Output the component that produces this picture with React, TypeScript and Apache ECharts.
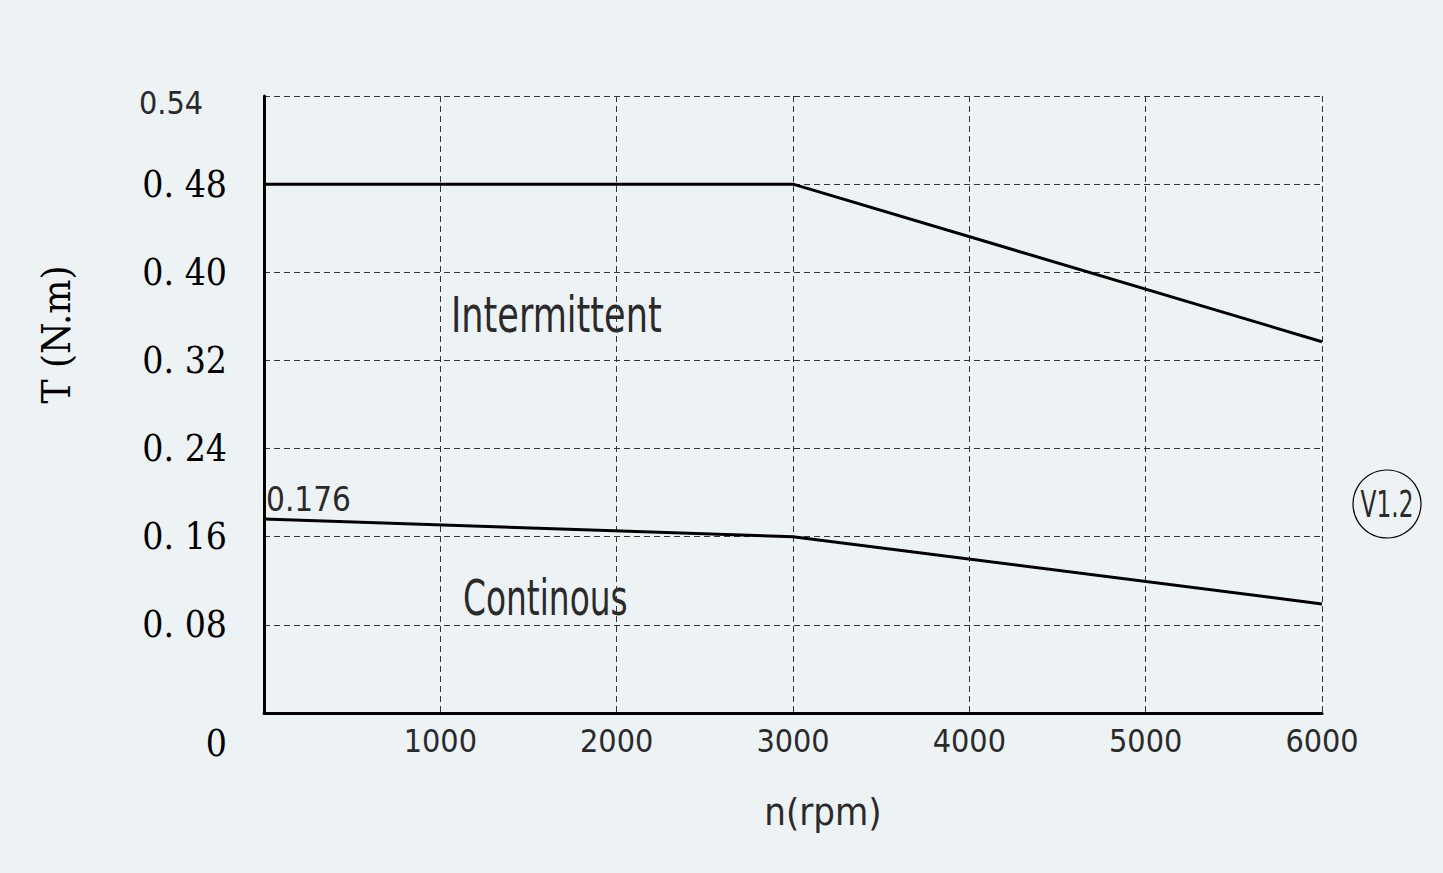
import React, { useEffect, useRef } from "react";
import * as echarts from "echarts";

// ---- data ----
const speedPoints = [0, 3000, 6000];
const intermittentTorque = [0.48, 0.48, 0.337];
const continuousTorque = [0.176, 0.16, 0.099];
const yTickLabels = ["0", "0. 08", "0. 16", "0. 24", "0. 32", "0. 40", "0. 48", "0.54"];
const xTickLabels = ["", "1000", "2000", "3000", "4000", "5000", "6000"];
const regionLabels = ["Intermittent", "Continous"];
const versionLabel = "V1.2";
const xAxisName = "n(rpm)";
const yAxisName = "T (N.m)";

const SANS = "'DejaVu Sans Condensed', 'Liberation Sans Narrow', 'DejaVu Sans', sans-serif";
const SERIF = "'DejaVu Serif Condensed', 'Liberation Serif', 'DejaVu Serif', serif";
const INK = "#2a2a2a";

export default function App() {
  const ref = useRef<HTMLDivElement>(null);

  useEffect(() => {
    if (!ref.current) return;
    const chart = echarts.init(ref.current, undefined, { renderer: "svg" });

    const mk = (arr: number[]) => speedPoints.map((x, i) => [x, arr[i]]);
    const contData: any[] = mk(continuousTorque);
    contData[0] = {
      value: contData[0],
      label: {
        show: true,
        formatter: String(continuousTorque[0]),
        position: "top",
        align: "left",
        offset: [2, 2],
        fontFamily: SANS,
        fontSize: 33,
        color: INK,
      },
    };

    chart.setOption({
      animation: false,
      backgroundColor: "#edf2f5",
      grid: { left: 264, right: 121, top: 96, bottom: 160, containLabel: false },
      xAxis: {
        type: "value",
        min: 0,
        max: 6000,
        interval: 1000,
        name: xAxisName,
        nameLocation: "middle",
        nameGap: 80,
        nameTextStyle: { fontFamily: SANS, fontSize: 38, color: INK, padding: [0, 0, 0, 60] },
        axisLine: { show: true, onZero: false, lineStyle: { color: "#000", width: 3 } },
        axisTick: { show: false },
        splitLine: { show: true, lineStyle: { color: "#333", width: 1, type: [6, 4] } },
        axisLabel: {
          margin: 12,
          fontFamily: SANS,
          fontSize: 32,
          color: INK,
          formatter: (v: number) => xTickLabels[Math.round(v / 1000)] ?? "",
        },
      },
      yAxis: {
        type: "value",
        min: 0,
        max: 0.56,
        interval: 0.08,
        name: yAxisName,
        nameLocation: "middle",
        nameRotate: 90,
        nameGap: 188,
        nameTextStyle: { fontFamily: SERIF, fontSize: 40, color: "#000", padding: [0, 0, 0, 140] },
        axisLine: { show: true, onZero: false, lineStyle: { color: "#000", width: 3 } },
        axisTick: { show: false },
        splitLine: { show: true, lineStyle: { color: "#333", width: 1, type: [6, 4] } },
        axisLabel: {
          margin: 37,
          formatter: (v: number) => {
            const i = Math.round(v / 0.08);
            const t = yTickLabels[i] ?? "";
            if (i === 0) return `{z|${t}}`;
            if (i === yTickLabels.length - 1) return `{t|${t}}`;
            return `{n|${t}}`;
          },
          rich: {
            n: { fontFamily: SERIF, fontSize: 37, color: "#000" },
            z: { fontFamily: SERIF, fontSize: 37, color: "#000", padding: [60, 0, 0, 0] },
            t: { fontFamily: SANS, fontSize: 32, color: INK, padding: [14, 24, 0, 0] },
          },
        },
      },
      series: [
        {
          type: "line",
          name: regionLabels[0],
          data: mk(intermittentTorque),
          showSymbol: false,
          symbol: "none",
          lineStyle: { color: "#000", width: 3 },
          z: 5,
        },
        {
          type: "line",
          name: regionLabels[1],
          data: contData,
          showSymbol: true,
          symbol: "circle",
          symbolSize: 0.1,
          itemStyle: { color: "rgba(0,0,0,0)" },
          lineStyle: { color: "#000", width: 3 },
          z: 5,
        },
      ],
      graphic: [
        {
          type: "text",
          x: 451,
          y: 315,
          scaleX: 0.78,
          style: {
            text: regionLabels[0],
            fontFamily: SANS,
            fontSize: 50,
            fill: INK,
            verticalAlign: "middle",
          },
        },
        {
          type: "text",
          x: 463,
          y: 597,
          scaleX: 0.73,
          style: {
            text: regionLabels[1],
            fontFamily: SANS,
            fontSize: 50,
            fill: INK,
            verticalAlign: "middle",
          },
        },
        {
          type: "circle",
          shape: { cx: 1387, cy: 504, r: 34 },
          style: { fill: "none", stroke: "#000", lineWidth: 1.2 },
        },
        {
          type: "text",
          x: 1387,
          y: 504,
          scaleX: 0.68,
          style: {
            text: versionLabel,
            fontFamily: SANS,
            fontSize: 38,
            fill: INK,
            align: "center",
            verticalAlign: "middle",
          },
        },
      ],
    });

    return () => chart.dispose();
  }, []);

  return (
    <div
      ref={ref}
      style={{ position: "fixed", left: 0, top: 0, width: 1443, height: 873 }}
    />
  );
}
